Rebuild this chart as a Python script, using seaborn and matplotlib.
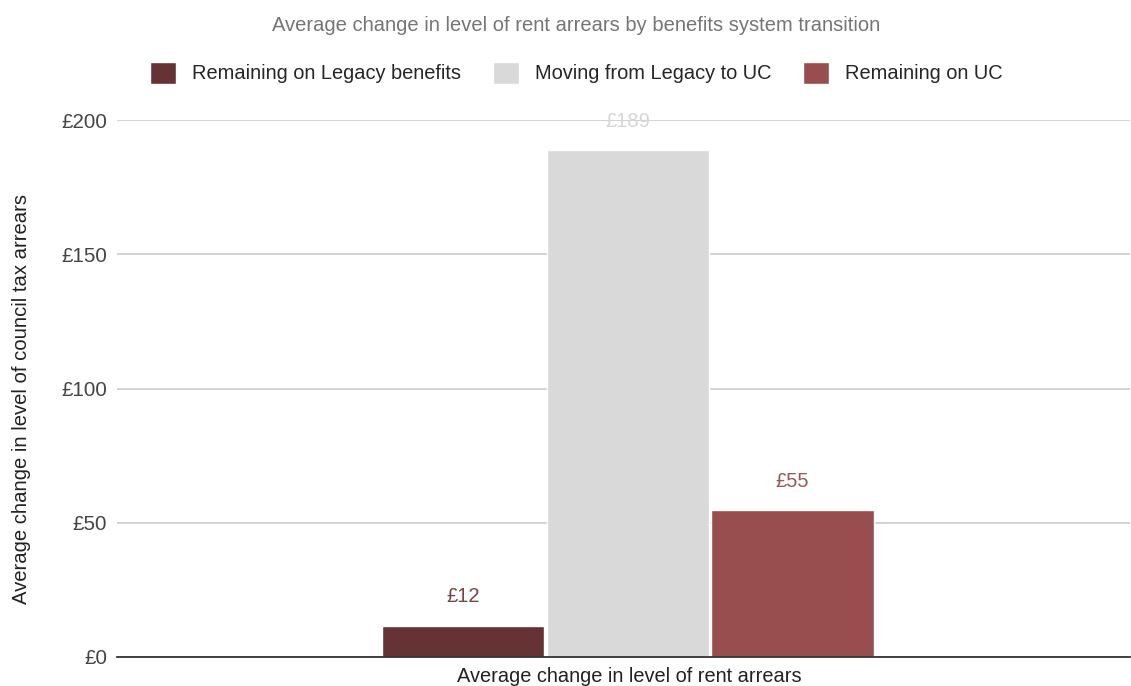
import pandas as pd
import seaborn as sns
from matplotlib import pyplot as plt

# data
group = ["Average change in level of rent arrears"]
series = ["Remaining on Legacy benefits", "Moving from Legacy to UC", "Remaining on UC"]
values = [11.6, 188.8, 54.7]
colors = ["#663335", "#d9d9d9", "#984e4e"]
label_colors = ["#7a4446", "#d6d6d6", "#9c5656"]
yticks = [0, 50, 100, 150, 200]

df = pd.DataFrame({"group": group * len(series), "series": series, "value": values})

sns.set_style("white")
plt.rcParams["font.family"] = ["Liberation Sans", "DejaVu Sans"]

fig = plt.figure(figsize=(11.31, 6.86), dpi=100)
ax = fig.add_axes([0.1034, 0.0423, 0.8957, 0.7827])

sns.barplot(data=df, x="group", y="value", hue="series", hue_order=series,
            palette=colors, width=0.8, gap=0.015, saturation=1, ax=ax, legend=True)

# value labels above bars
for cont, col in zip(ax.containers, label_colors):
    ax.bar_label(cont, labels=["£{:.0f}".format(v) for v in cont.datavalues],
                 padding=14, color=col, fontsize=14.5)

ax.set_ylim(0, 200)
ax.set_xlim(-0.827, 0.813)
ax.set_yticks(yticks)
ax.set_yticklabels(["£{}".format(t) for t in yticks], color="#444444", fontsize=14.8)
ax.tick_params(axis="y", length=0, pad=7)
ax.tick_params(axis="x", length=0, labelbottom=False)
ax.yaxis.grid(True, color="#cccccc", linewidth=1.2)
ax.set_axisbelow(True)
for s in ["top", "right", "left"]:
    ax.spines[s].set_visible(False)
ax.spines["bottom"].set_color("#333333")
ax.spines["bottom"].set_linewidth(1.3)

ax.set_ylabel("Average change in level of council tax arrears", fontsize=14.6, color="#222222")
ax.yaxis.set_label_coords(-0.085, 0.48)
ax.set_xlabel("")
fig.text(0.556, 0.0, "Average change in level of rent arrears", ha="center", va="bottom",
         fontsize=14.4, color="#222222")

fig.text(0.509, 0.963, "Average change in level of rent arrears by benefits system transition",
         ha="center", va="center", fontsize=14.5, color="#757575")

handles, labels = ax.get_legend_handles_labels()
ax.legend(handles, labels, loc="center", bbox_to_anchor=(0.4536, 1.088), ncol=3, frameon=False,
          fontsize=14.4, handlelength=1.3, handleheight=1.3, columnspacing=1.6, handletextpad=0.8)

fig.savefig("out.png", dpi=100)
